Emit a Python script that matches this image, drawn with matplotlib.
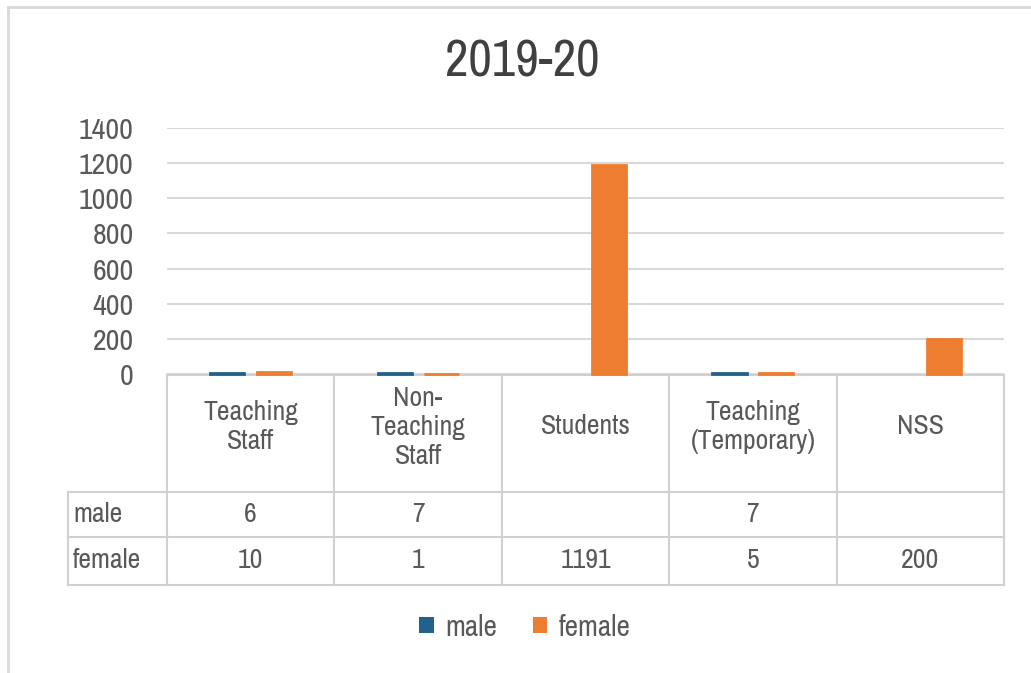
import numpy as np
import matplotlib
matplotlib.use("Agg")
import matplotlib.pyplot as plt
from matplotlib import font_manager as fm
from matplotlib.lines import Line2D
from matplotlib.patches import Patch

# ---- data ----
title = "2019-20"
categories = ["Teaching\nStaff", "Non-\nTeaching\nStaff", "Students", "Teaching\n(Temporary)", "NSS"]
series_names = ["male", "female"]
male = [6, 7, np.nan, 7, np.nan]
female = [10, 1, 1191, 5, 200]
yticks = [0, 200, 400, 600, 800, 1000, 1200, 1400]

colors = {"male": "#22628A", "female": "#ED7D31"}
txt = "#595959"
grid_c = "#d9d9d9"
line_c = "#d0d0d0"

# pick a narrow font if one is installed
narrow = None
for f in fm.fontManager.ttflist:
    if "Narrow" in f.name and f.style == "normal" and f.weight in (400, "normal", "regular"):
        narrow = (f.name, f.stretch)
        break
if narrow is None:
    for f in fm.fontManager.ttflist:
        if ("Condensed" in f.fname or "Condensed" in f.name) and "Bold" not in f.fname \
                and "Oblique" not in f.fname and "DejaVuSans" in f.fname.replace(" ", ""):
            narrow = (f.name, f.stretch)
            break
if narrow is not None:
    plt.rcParams['font.family'] = [narrow[0], 'Liberation Sans', 'DejaVu Sans']
    plt.rcParams['font.stretch'] = narrow[1]
    scale = 1.0
else:
    plt.rcParams['font.family'] = ['Liberation Sans', 'DejaVu Sans']
    scale = 0.9

W, H = 1031, 673
fig = plt.figure(figsize=(W / 100, H / 100), dpi=100)
fig.patch.set_facecolor("white")

def fx(px):
    return px / W

def fy(py):
    return 1 - py / H

# outer frame (left and top only visible)
fig.add_artist(Line2D([fx(8), fx(8)], [fy(7), fy(673)], color=grid_c, lw=2))
fig.add_artist(Line2D([fx(8), fx(1031)], [fy(7), fy(7)], color=grid_c, lw=2))

# ---- data table axes (pixel coordinates), drawn below the bars ----
tab = fig.add_axes([0, 0, 1, 1])
tab.set_zorder(0)
tab.set_xlim(0, W)
tab.set_ylim(H, 0)
tab.axis("off")
tab.patch.set_alpha(0)

# ---- bar axes ----
L, R, T, B = 167, 1004, 128, 374
ax = fig.add_axes([fx(L), fy(B), fx(R) - fx(L), fy(T) - fy(B)])
ax.set_zorder(2)
x = np.arange(len(categories))
bw = 0.205
off = 0.14
ax.bar(x - off, male, width=bw, color=colors["male"], edgecolor=colors["male"], lw=2.0, zorder=3, clip_on=False)
ax.bar(x + off, female, width=bw, color=colors["female"], edgecolor=colors["female"], lw=2.0, zorder=3, clip_on=False)
ax.set_xlim(-0.5, len(categories) - 0.5)
ax.set_ylim(0, 1400)
ax.set_yticks(yticks)
ax.set_yticklabels([str(v) for v in yticks], fontsize=21.5 * scale, color=txt)
ax.tick_params(axis="y", length=0, pad=24)
ax.set_xticks([])
for s in ax.spines.values():
    s.set_visible(False)
ax.grid(axis="y", color=grid_c, lw=1.5, zorder=0)
ax.set_facecolor("none")

fig.text(fx(522), fy(62), title, ha="center", va="center", fontsize=37 * scale, color="#404040")

col_w = (R - L) / len(categories)
col_edges = [L + i * col_w for i in range(len(categories) + 1)]
row_y = [374, 492, 537, 585]
lab_x = 68
lw = 1.5
tab.plot([L, R], [row_y[0] + 1, row_y[0] + 1], color=line_c, lw=lw)
for yy in row_y[1:]:
    tab.plot([lab_x, R], [yy, yy], color=line_c, lw=lw)
tab.plot([lab_x, lab_x], [row_y[1], row_y[3]], color=line_c, lw=lw)
for xe in col_edges:
    tab.plot([xe, xe], [row_y[0] + 1, row_y[3]], color=line_c, lw=lw)

fs = 20 * scale
for i, c in enumerate(categories):
    cx = (col_edges[i] + col_edges[i + 1]) / 2
    tab.text(cx, 427, c, ha="center", va="center", fontsize=fs, color=txt, linespacing=1.2)
rows = [male, female]
for r, (name, vals) in enumerate(zip(series_names, rows)):
    cy = (row_y[r + 1] + row_y[r + 2]) / 2
    tab.text(lab_x + 5, cy, name, ha="left", va="center", fontsize=fs, color=txt)
    for i, v in enumerate(vals):
        if v is None or (isinstance(v, float) and np.isnan(v)):
            continue
        cx = (col_edges[i] + col_edges[i + 1]) / 2
        tab.text(cx, cy, f"{int(v)}", ha="center", va="center", fontsize=fs, color=txt)

# ---- legend ----
handles = [Patch(facecolor=colors[n], edgecolor="none") for n in series_names]
fig.legend(handles, series_names, loc="center", bbox_to_anchor=(fx(525), fy(627)),
           ncol=2, frameon=False, fontsize=21 * scale, labelcolor=txt,
           handlelength=0.5, handleheight=0.5, handletextpad=0.4, columnspacing=1.2)

fig.savefig("out.png", dpi=100)
